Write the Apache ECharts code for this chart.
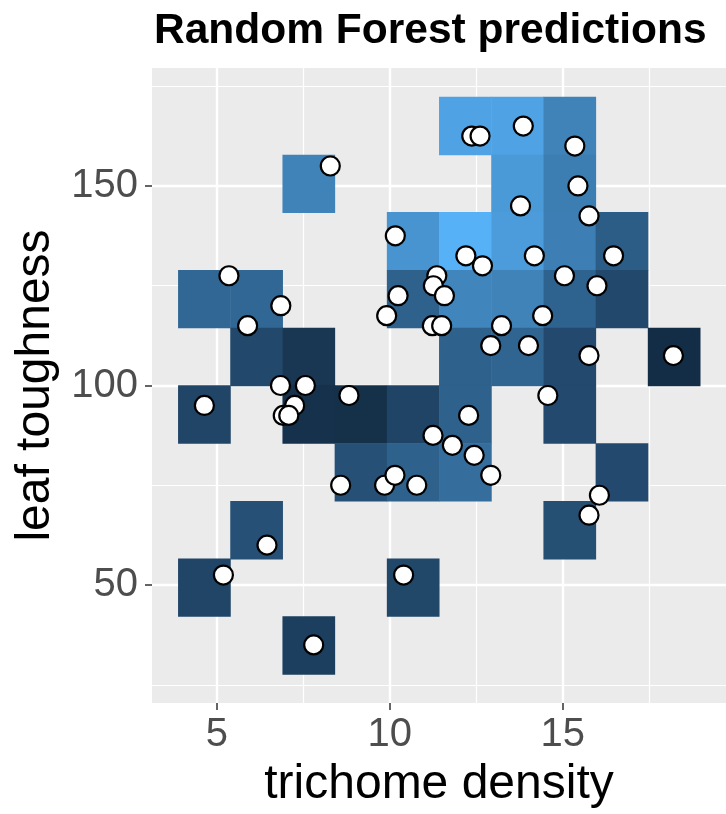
<!DOCTYPE html>
<html>
<head>
<meta charset="utf-8">
<script src="https://cdn.jsdelivr.net/npm/echarts@6/dist/echarts.min.js"></script>
<style>
html,body{margin:0;padding:0;background:#fff;}
#chart{width:726px;height:814px;}
</style>
</head>
<body>
<div id="chart"></div>
<script>
// ---- data ----
const xTicks = [5, 10, 15];
const xMinor = [7.5, 12.5, 17.5];
const yTicks = [50, 100, 150];
const yMinor = [25, 75, 125, 175];

// tile grid centres (prediction grid)
const gridX = [4.633, 6.142, 7.651, 9.160, 10.669, 12.178, 13.687, 15.196, 16.705, 18.214];
const gridY = [34.9, 49.4, 63.8, 78.3, 92.8, 107.2, 121.7, 136.2, 150.6, 165.1];

// tiles: [column index, row index, relative prediction]
const tiles = [
  [5, 9, 0.90], [6, 9, 0.90], [7, 9, 0.68],
  [2, 8, 0.68], [6, 8, 0.84], [7, 8, 0.64],
  [4, 7, 0.80], [5, 7, 1.00], [6, 7, 0.86], [7, 7, 0.65], [8, 7, 0.40],
  [0, 6, 0.48], [1, 6, 0.48], [4, 6, 0.44], [5, 6, 0.69], [6, 6, 0.68], [7, 6, 0.45], [8, 6, 0.25],
  [1, 5, 0.25], [2, 5, 0.10], [5, 5, 0.44], [6, 5, 0.46], [7, 5, 0.26], [9, 5, 0.02],
  [0, 4, 0.22], [2, 4, 0.05], [3, 4, 0.04], [4, 4, 0.21], [5, 4, 0.44], [7, 4, 0.26],
  [3, 3, 0.30], [4, 3, 0.43], [5, 3, 0.53], [8, 3, 0.26],
  [1, 2, 0.30], [7, 2, 0.29],
  [0, 1, 0.22], [4, 1, 0.23],
  [2, 0, 0.17]
];

// observed points
const trichome = [8.28, 10.16, 5.35, 12.37, 12.61, 13.86, 15.35, 15.44, 13.78, 15.76,
  12.20, 12.68, 14.18, 16.47, 11.36, 15.05, 15.99, 6.85, 5.89, 6.84,
  7.56, 8.82, 7.25, 6.92, 7.08, 4.64, 11.25, 10.24, 9.91, 11.26,
  11.58, 11.23, 11.50, 8.58, 9.85, 10.15, 10.78, 6.45, 5.19, 10.40,
  7.80, 14.42, 13.23, 12.92, 14.01, 15.76, 18.20, 14.57, 12.28, 11.81,
  12.44, 12.92, 16.06, 15.76];
const toughness = [155, 137.5, 127.5, 162.5, 162.5, 165, 160, 150, 145, 142.5,
  132.5, 130, 132.5, 132.5, 127.5, 127.5, 125, 120, 115, 100,
  100, 97.5, 95, 92.5, 92.5, 95, 87.5, 122.5, 117.5, 125,
  122.5, 115, 115, 75, 75, 77.5, 75, 60, 52.5, 52.5,
  35, 117.5, 115, 110, 110, 107.5, 107.5, 97.5, 92.5, 85,
  82.5, 77.5, 72.5, 67.5];

// ---- Lab gradient like ggplot's default continuous fill ----
function hexToRgb(h){h=h.replace('#','');return [0,2,4].map(i=>parseInt(h.substr(i,2),16)/255);}
function lin(c){return c<=0.04045?c/12.92:Math.pow((c+0.055)/1.055,2.4);}
function unlin(c){return c<=0.0031308?12.92*c:1.055*Math.pow(c,1/2.4)-0.055;}
const Wn=[0.95047,1,1.08883];
function f(t){return t>0.008856?Math.cbrt(t):7.787*t+16/116;}
function finv(t){return t>0.206893?t*t*t:(t-16/116)/7.787;}
function toLab(hex){
  const [r,g,b]=hexToRgb(hex).map(lin);
  const X=(0.4124*r+0.3576*g+0.1805*b)/Wn[0];
  const Y=(0.2126*r+0.7152*g+0.0722*b)/Wn[1];
  const Z=(0.0193*r+0.1192*g+0.9505*b)/Wn[2];
  const fx=f(X),fy=f(Y),fz=f(Z);
  return [116*fy-16,500*(fx-fy),200*(fy-fz)];
}
function fromLab(L,a,b){
  const fy=(L+16)/116,fx=fy+a/500,fz=fy-b/200;
  const X=finv(fx)*Wn[0],Y=finv(fy)*Wn[1],Z=finv(fz)*Wn[2];
  let r=3.2406*X-1.5372*Y-0.4986*Z;
  let g=-0.9689*X+1.8758*Y+0.0415*Z;
  let bb=0.0557*X-0.2040*Y+1.0570*Z;
  return '#'+[r,g,bb].map(c=>{let v=Math.round(Math.min(1,Math.max(0,unlin(c)))*255);return v.toString(16).padStart(2,'0');}).join('');
}
function labPalette(c1,c2,n){
  const A=toLab(c1),B=toLab(c2),out=[];
  for(let i=0;i<n;i++){const t=i/(n-1);out.push(fromLab(A[0]+(B[0]-A[0])*t,A[1]+(B[1]-A[1])*t,A[2]+(B[2]-A[2])*t));}
  return out;
}
const palette = labPalette('#132B43','#56B1F7',21);

const tileData = tiles.map(t => [gridX[t[0]], gridY[t[1]], t[2]]);
const tileW = gridX[1] - gridX[0];
const tileH = gridY[1] - gridY[0];
const pts = trichome.map((x, i) => [x, toughness[i]]);

const chart = echarts.init(document.getElementById('chart'), null, {renderer: 'canvas'});
const FONT = '"Liberation Sans", Arial, Helvetica, sans-serif';

const gridLines = [];
xTicks.forEach(v => gridLines.push({xAxis: v, lineStyle: {width: 2.4}}));
xMinor.forEach(v => gridLines.push({xAxis: v, lineStyle: {width: 1.2}}));
yTicks.forEach(v => gridLines.push({yAxis: v, lineStyle: {width: 2.4}}));
yMinor.forEach(v => gridLines.push({yAxis: v, lineStyle: {width: 1.2}}));

chart.setOption({
  animation: false,
  backgroundColor: '#ffffff',
  title: {
    text: 'Random Forest predictions',
    left: 149, top: 5,
    textStyle: {fontFamily: FONT, fontSize: 42.5, fontWeight: 'bold', color: '#000000'}
  },
  grid: {
    left: 152, right: 0, top: 68, bottom: 106,
    show: true, backgroundColor: '#EBEBEB', borderWidth: 0
  },
  xAxis: {
    type: 'value', min: 3.125, max: 19.72,
    name: 'trichome density', nameLocation: 'middle', nameGap: 58,
    nameTextStyle: {fontFamily: FONT, fontSize: 48, color: '#000000'},
    axisLine: {show: false},
    axisTick: {show: true, length: 7, customValues: xTicks, lineStyle: {color: '#333333', width: 1.5}},
    axisLabel: {customValues: xTicks, fontFamily: FONT, fontSize: 40, color: '#4D4D4D', margin: 12},
    splitLine: {show: false}
  },
  yAxis: {
    type: 'value', min: 20.44, max: 179.56,
    name: 'leaf toughness', nameLocation: 'middle', nameGap: 92, nameRotate: 90,
    nameTextStyle: {fontFamily: FONT, fontSize: 48, color: '#000000'},
    axisLine: {show: false},
    axisTick: {show: true, length: 7, customValues: yTicks, lineStyle: {color: '#333333', width: 1.5}},
    axisLabel: {customValues: yTicks, fontFamily: FONT, fontSize: 40, color: '#4D4D4D', margin: 14},
    splitLine: {show: false}
  },
  visualMap: {
    show: false, type: 'continuous', min: 0, max: 1, dimension: 2, seriesIndex: 1,
    inRange: {color: palette}
  },
  series: [
    {
      type: 'line', data: [], z: 1, zlevel: 0, silent: true,
      markLine: {
        silent: true, symbol: 'none', label: {show: false}, z: 0,
        lineStyle: {color: '#ffffff', type: 'solid'},
        data: gridLines
      }
    },
    {
      type: 'custom', z: 10,
      data: tileData,
      encode: {x: 0, y: 1},
      renderItem: function (params, api) {
        const c = api.coord([api.value(0), api.value(1)]);
        const s = api.size([tileW, tileH]);
        return {
          type: 'rect',
          shape: {x: c[0] - s[0] / 2, y: c[1] - s[1] / 2, width: s[0] + 0.5, height: s[1] + 0.5},
          style: {fill: api.visual('color')}
        };
      }
    },
    {
      type: 'scatter', z: 12,
      data: pts,
      symbol: 'circle', symbolSize: 19,
      itemStyle: {color: '#ffffff', borderColor: '#000000', borderWidth: 2.2, opacity: 1}
    }
  ]
});
</script>
</body>
</html>
